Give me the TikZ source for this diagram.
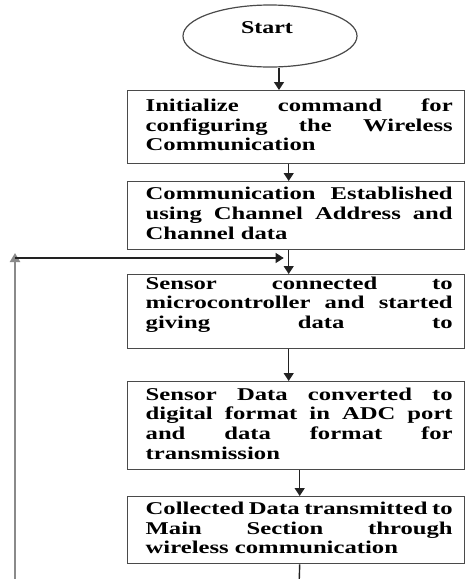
\documentclass[tikz,border=0pt]{standalone}
\usepackage{fontspec}
\setmainfont{Liberation Serif}
\usetikzlibrary{shapes.geometric,arrows.meta,calc}
\newlength\boxtw
\setlength\boxtw{224.1pt}
\newcommand\jline[1]{\makebox[\boxtw][s]{\strut #1}\\}
\newcommand\lline[1]{\makebox[\boxtw][l]{\strut #1}}
\newcommand\boxtext[1]{\hspace{6pt}\scalebox{1.37}[1]{\parbox{\boxtw}{\fontsize{18}{19.7}\selectfont\bfseries #1}}}
\definecolor{bordergray}{HTML}{4A4A4A}
\definecolor{linegray}{HTML}{222222}
\definecolor{fbgray}{HTML}{8A8A8A}
\tikzset{
  stepbox/.style={draw=bordergray, line width=1.4pt, anchor=north west,
    minimum width=337pt, inner xsep=0pt, inner ysep=0pt},
  arr/.style={draw=linegray, line width=1.4pt, -{Triangle[width=10pt,length=8pt]}},
}
\begin{document}
\begin{tikzpicture}[x=1pt,y=-1pt]
\useasboundingbox (0,0) rectangle (465,579);
% start ellipse
\node[ellipse, draw=bordergray, line width=1.2pt, minimum width=174pt,
      minimum height=62pt, inner sep=0pt] (start) at (270,36) {};
\node[font=\fontsize{18}{20}\selectfont\bfseries] (starttxt) at (267,27.5)
      {\scalebox{1.33}[1]{Start}};
% boxes
\node[stepbox, minimum height=73pt] (b1) at (127,90) {\boxtext{%
  \jline{Initialize command for}%
  \jline{configuring the Wireless}%
  \lline{Communication}}};
\node[stepbox, minimum height=68pt] (b2) at (127,181) {\boxtext{%
  \jline{Communication Established}%
  \jline{using Channel Address and}%
  \lline{Channel data}}};
\node[stepbox, minimum height=74pt] (b3) at (127,274) {\boxtext{%
  \jline{Sensor connected to}%
  \jline{microcontroller and started}%
  \jline{giving data to}}};
\node[stepbox, minimum height=88pt] (b4) at (127,381) {\boxtext{%
  \jline{Sensor Data converted to}%
  \jline{digital format in ADC port}%
  \jline{and data format for}%
  \lline{transmission}}};
\node[stepbox, minimum height=67pt] (b5) at (127,496) {\boxtext{%
  \jline{Collected Data transmitted to}%
  \jline{Main Section through}%
  \lline{wireless communication}}};
% connectors
\draw[arr] ([xshift=9pt]start.south) -- ([xshift=9pt]start.south |- b1.north);
\draw[arr] ([xshift=-7.5pt]b1.south) -- ([xshift=-7.5pt]b2.north);
\draw[arr] ([xshift=-7.5pt]b2.south) -- ([xshift=-7.5pt]b3.north);
\draw[arr] ([xshift=-7.5pt]b3.south) -- ([xshift=-7.5pt]b4.north);
\draw[arr] ([xshift=3.5pt]b4.south) -- ([xshift=3.5pt]b5.north);
\coordinate (outb) at (299,588);
\draw[arr] ([xshift=3.5pt]b5.south) -- (outb);
% feedback loop
\coordinate (fbot) at (15,582);
\coordinate (fcorner) at (15,258);
\coordinate (join) at ([xshift=-7.5pt]b2.south |- fcorner);
\draw[draw=fbgray, line width=2.6pt, -{Triangle[width=10pt,length=9pt]}]
  (fbot) -- ([yshift=5pt]fcorner);
\draw[arr, line width=1.2pt] (fcorner) -- ([xshift=-5pt]join);
\end{tikzpicture}
\end{document}
